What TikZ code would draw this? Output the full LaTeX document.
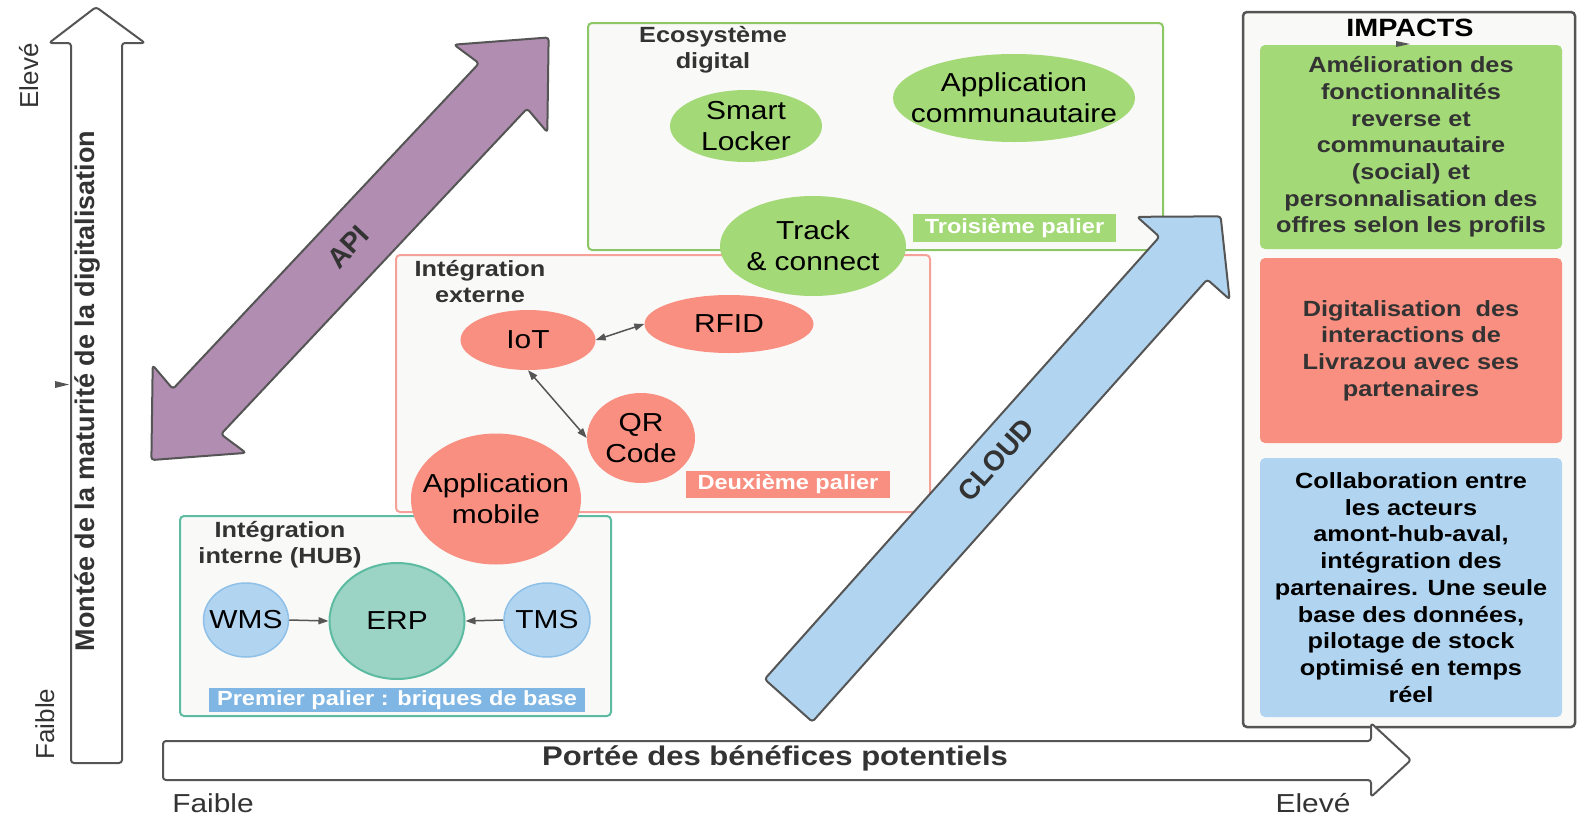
\documentclass[tikz,border=0pt]{standalone}
\usepackage{fontspec}
\setmainfont{Liberation Sans}[FakeStretch=1.15]
\newfontfamily\droitfont{Liberation Sans}
\usepackage{tikz}
\usetikzlibrary{arrows.meta, shapes.geometric}
\definecolor{lz_green}{HTML}{A3D977}
\definecolor{lz_greenline}{HTML}{8CC765}
\definecolor{lz_red}{HTML}{F98F80}
\definecolor{lz_redline}{HTML}{F5A197}
\definecolor{lz_blue}{HTML}{B1D5F0}
\definecolor{lz_blueline}{HTML}{8EC0E8}
\definecolor{lz_bluelab}{HTML}{7FB6E3}
\definecolor{lz_teal}{HTML}{9BD4C5}
\definecolor{lz_tealline}{HTML}{5DBBA2}
\definecolor{lz_purple}{HTML}{B08DB1}
\definecolor{lz_bg}{HTML}{F9F9F8}
\definecolor{lz_outline}{HTML}{555555}
\definecolor{lz_dark}{HTML}{333333}

\begin{document}
\begin{tikzpicture}[x=1pt, y=-1pt,
        fleche/.style={draw=lz_outline, line width=2pt, rounded corners=3pt, line join=round},
        zone/.style={rectangle, rounded corners=4pt, line width=2pt, fill=lz_bg, inner sep=0pt},
        ev/.style={ellipse, fill=lz_green, inner sep=0pt},
        er/.style={ellipse, fill=lz_red, inner sep=0pt},
        eb/.style={ellipse, fill=lz_blue, draw=lz_blueline, line width=1.5pt, inner sep=0pt},
        txt/.style={align=center, font=\fontsize{26}{31}\selectfont},
        titre/.style={align=center, text=lz_dark, font=\bfseries\fontsize{22}{26}\selectfont},
        palier/.style={rectangle, inner sep=0pt, text=white,
                       font=\bfseries\fontsize{20.5}{24}\selectfont},
        impact/.style={rectangle, rounded corners=5pt, inner sep=0pt, minimum width=302pt,
                       align=center, font=\bfseries\fontsize{22}{26.7}\selectfont},
        axe/.style={text=lz_dark, font=\droitfont\bfseries\fontsize{27}{32}\selectfont},
        diag/.style={text=lz_dark, font=\droitfont\bfseries\fontsize{28}{33}\selectfont},
        lien/.style={draw=lz_outline, line width=1.5pt, >={Triangle[length=10pt, width=7pt]}}]
        \useasboundingbox (0,0) rectangle (1577,817);

        % axe vertical
        \draw[fleche, fill=white] (71,763) -- (71,43) -- (49,43) -- (96,7) -- (145,43)
          -- (122,43) -- (122,763) -- cycle;
        \fill[lz_outline] (55,381) -- (69,384.5) -- (55,388) -- cycle;
        \node[axe, rotate=90, anchor=base] (montee) at (94.5,391)
          {Montée de la maturité de la digitalisation};
        \node[rotate=90, anchor=base, text=lz_dark, font=\droitfont\fontsize{26}{31}\selectfont]
          (elevev) at (38,76) {Elevé};
        \node[rotate=90, anchor=base, text=lz_dark, font=\droitfont\fontsize{26}{31}\selectfont]
          (faiblev) at (54,724) {Faible};

        % paliers
        \node[zone, draw=lz_greenline, minimum width=575pt, minimum height=227pt] (eco) at (875.5,136.5) {};
        \node[titre] (ecot) at (713,50) {Ecosystème\\digital};
        \node[ev, minimum width=152pt, minimum height=72pt, label={[txt]center:Smart\\Locker}]
          (smart) at (746,126) {};
        \node[ev, minimum width=242pt, minimum height=88pt, label={[txt]center:Application\\communautaire}]
          (appcom) at (1014,98) {};
        \node[palier, fill=lz_green, minimum width=203pt, minimum height=28pt]
          (p3) at (1014.5,228) {Troisième palier};

        \node[zone, draw=lz_redline, minimum width=534pt, minimum height=257pt] (ext) at (663,383.5) {};
        \node[titre] (extt) at (480,282) {Intégration\\externe};
        \node[er, minimum width=135pt, minimum height=60pt, label={[txt]center:IoT}] (iot) at (528,340) {};
        \node[er, minimum width=169pt, minimum height=58pt, label={[txt]center:RFID}] (rfid) at (729,324) {};
        \node[er, minimum width=108pt, minimum height=90pt, label={[txt]center:QR\\Code}] (qr) at (641,438) {};
        \node[palier, fill=lz_red, minimum width=204pt, minimum height=27pt]
          (p2) at (788,484.5) {Deuxième palier};
        \draw[lien, <->] (iot.east) -- (rfid.west);
        \draw[lien, <->] (iot.south) -- (qr.west);
        \node[ev, minimum width=186pt, minimum height=100pt, label={[txt]center:Track\\\& connect}]
          (track) at (813,246) {};

        \node[zone, draw=lz_tealline, minimum width=431pt, minimum height=200pt] (hub) at (395.5,616) {};
        \node[titre] (hubt) at (280,545) {Intégration\\interne (HUB)};
        \node[eb, minimum width=85pt, minimum height=74pt, label={[txt]center:WMS}] (wms) at (246,620) {};
        \node[ellipse, inner sep=0pt, fill=lz_teal, draw=lz_tealline, line width=2pt,
          minimum width=135pt, minimum height=116pt, label={[txt]center:ERP}] (erp) at (397,621) {};
        \node[eb, minimum width=86pt, minimum height=74pt, label={[txt]center:TMS}] (tms) at (547,620) {};
        \draw[lien, ->] (wms.east) -- (erp.west);
        \draw[lien, ->] (tms.west) -- (erp.east);
        \node[palier, fill=lz_bluelab, minimum width=376pt, minimum height=24pt]
          (p1) at (397,700) {Premier palier : briques de base};
        \node[er, minimum width=170pt, minimum height=131pt, label={[txt]center:Application\\mobile}]
          (appmob) at (496,499) {};

        % API et CLOUD
        \begin{scope}[shift={(350,248.75)}, rotate=46.77]
          \draw[fleche, fill=lz_purple] (-223.5,-33) -- (223.5,-33) -- (220,-64) -- (290,0)
            -- (220,64) -- (223.5,33) -- (-223.5,33) -- (-220,64) -- (-290,0) -- (-220,-64) -- cycle;
        \end{scope}
        \node[diag, rotate=46.77] (api) at (348,247) {API};
        \begin{scope}[shift={(788.5,700.5)}, rotate=48.25]
          \draw[fleche, fill=lz_blue] (0,-32) -- (593,-32) -- (593,-62) -- (649,0)
            -- (593,62) -- (593,32) -- (0,32) -- cycle;
        \end{scope}
        \node[diag, rotate=48.25] (cloud) at (996,460) {CLOUD};

        % impacts
        \node[zone, draw=lz_outline, line width=2.5pt, minimum width=332pt, minimum height=715pt]
          (impacts) at (1409,369.5) {};
        \node[anchor=base, font=\bfseries\fontsize{25}{30}\selectfont] (impt) at (1410,36) {IMPACTS};
        \node[impact, fill=lz_green, text=lz_dark, minimum height=204pt] (imp1) at (1411,147)
          {Amélioration des\\fonctionnalités\\reverse et\\communautaire\\(social) et\\personnalisation des\\offres selon les profils};
        \fill[lz_outline] (1396,41) -- (1410,44) -- (1396,47) -- cycle;
        \node[impact, fill=lz_red, text=lz_dark, minimum height=185pt] (imp2) at (1411,350.5)
          {Digitalisation\ \ des\\interactions de\\Livrazou avec ses\\partenaires};
        \node[impact, fill=lz_blue, text=black, minimum height=259pt] (imp3) at (1411,587.5)
          {Collaboration entre\\les acteurs\\amont-hub-aval,\\intégration des\\partenaires. Une seule\\base des données,\\pilotage de stock\\optimisé en temps\\réel};

        % axe horizontal
        \draw[fleche, fill=white] (163,741) -- (1371,741) -- (1371,723) -- (1411,760) -- (1371,797)
          -- (1371,780) -- (163,780) -- cycle;
        \node[anchor=base, font=\bfseries\fontsize{27}{32}\selectfont, text=lz_dark] (portee) at (775,765)
          {Portée des bénéfices potentiels};
        \node[anchor=base, font=\fontsize{26}{31}\selectfont, text=lz_dark] (faibleh) at (213,812) {Faible};
        \node[anchor=base, font=\fontsize{26}{31}\selectfont, text=lz_dark] (eleveh) at (1313,812) {Elevé};
      \end{tikzpicture}
\end{document}
